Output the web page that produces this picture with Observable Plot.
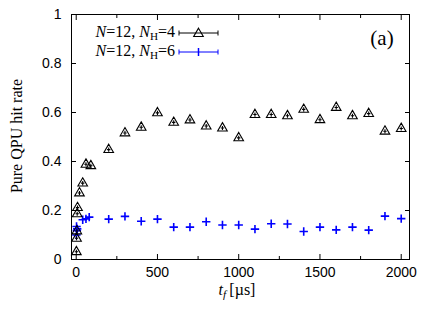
<!DOCTYPE html>
<html><head><meta charset="utf-8">
<script src="https://cdn.jsdelivr.net/npm/d3@7"></script>
<script src="https://cdn.jsdelivr.net/npm/@observablehq/plot@0.6"></script>
<style>
body{margin:0;background:#fff}
#wrap{position:relative;width:436px;height:320px;overflow:hidden}
.ov{position:absolute;font-family:"Liberation Serif","DejaVu Serif",serif;color:#000;white-space:nowrap;line-height:1}
sub{font-size:70%;vertical-align:-0.25em;line-height:0}
</style></head><body>
<div id="wrap"></div>
<script>
// Series N=12, N_H=4
const tH4 = [1, 2, 4, 6, 8, 20, 40, 60, 90, 200, 300, 400, 500, 600, 700, 800, 900, 1000, 1100, 1200, 1300, 1400, 1500, 1600, 1700, 1800, 1900, 2000];
const rateH4 = [0.035, 0.09, 0.12, 0.19, 0.215, 0.275, 0.315, 0.392, 0.386, 0.452, 0.52, 0.543, 0.602, 0.563, 0.573, 0.548, 0.54, 0.50, 0.595, 0.595, 0.59, 0.616, 0.574, 0.624, 0.59, 0.599, 0.527, 0.538];
// Series N=12, N_H=6
const tH6 = [1, 2, 4, 6, 40, 60, 80, 200, 300, 400, 500, 600, 700, 800, 900, 1000, 1100, 1200, 1300, 1400, 1500, 1600, 1700, 1800, 1900, 2000];
const rateH6 = [0.10, 0.135, 0.118, 0.125, 0.162, 0.166, 0.173, 0.165, 0.176, 0.156, 0.165, 0.132, 0.132, 0.154, 0.141, 0.141, 0.124, 0.146, 0.145, 0.114, 0.132, 0.121, 0.132, 0.12, 0.177, 0.167];

const xTicks = [0, 500, 1000, 1500, 2000];
const xTickLabels = ["0", "500", "1000", "1500", "2000"];
const xMinor = [250, 750, 1250, 1750];
const yTicks = [0, 0.2, 0.4, 0.6, 0.8, 1];
const yTickLabels = ["0", "0.2", "0.4", "0.6", "0.8", "1"];

const dataH4 = tH4.map((t, i) => ({t, v: rateH4[i]}));
const dataH6 = tH6.map((t, i) => ({t, v: rateH6[i]}));

const triSym = {draw(ctx, size) {
  const r = Math.sqrt(size / Math.PI);
  const h = r * Math.sqrt(3);
  ctx.moveTo(0, -h * 0.55);
  ctx.lineTo(r, h * 0.45);
  ctx.lineTo(-r, h * 0.45);
  ctx.closePath();
  ctx.moveTo(0, -h * 0.15); ctx.lineTo(0, h * 0.35);
  ctx.moveTo(-r * 0.35, h * 0.1); ctx.lineTo(r * 0.35, h * 0.1);
}};
const plusSym = {draw(ctx, size) {
  const r = Math.sqrt(size / Math.PI);
  ctx.moveTo(-r, 0); ctx.lineTo(r, 0);
  ctx.moveTo(0, -r); ctx.lineTo(0, r);
}};

const font = '"Liberation Sans", Arial, sans-serif';
const plot = Plot.plot({
  width: 436, height: 320,
  marginLeft: 71, marginRight: 27, marginTop: 14, marginBottom: 61,
  style: {fontFamily: font, fontSize: "14px", background: "#fff", color: "#000"},
  x: {domain: [-29, 2051]},
  y: {domain: [0, 1]},
  marks: [
    Plot.frame({stroke: "#000", strokeWidth: 1}),
    Plot.axisX(xTicks, {anchor: "bottom", tickSize: 0, tickPadding: 8, label: null, fontSize: 14, tickFormat: (d, i) => xTickLabels[i]}),
    Plot.axisX(xTicks, {anchor: "bottom", tickSize: -5, tickFormat: () => "", label: null}),
    Plot.axisX(xTicks, {anchor: "top", tickSize: -5, tickFormat: () => "", label: null}),
    Plot.axisX(xMinor, {anchor: "bottom", tickSize: -3, tickFormat: () => "", label: null}),
    Plot.axisX(xMinor, {anchor: "top", tickSize: -3, tickFormat: () => "", label: null}),
    Plot.axisY(yTicks, {anchor: "left", tickSize: 0, tickPadding: 10, label: null, fontSize: 14, tickFormat: (d, i) => yTickLabels[i]}),
    Plot.axisY(yTicks, {anchor: "left", tickSize: -5, tickFormat: () => "", label: null}),
    Plot.axisY(yTicks, {anchor: "right", tickSize: -5, tickFormat: () => "", label: null}),
    Plot.dot(dataH6, {x: "t", y: "v", symbol: plusSym, r: 4.2, stroke: "#0000ff", strokeWidth: 1.6, fill: "none"}),
    Plot.dot(dataH4, {x: "t", y: "v", symbol: triSym, r: 4.8, stroke: "#000", strokeWidth: 1.1, fill: "none"})
  ]
});
const wrap = document.getElementById("wrap");
wrap.appendChild(plot);

function ov(html, css) {
  const d = document.createElement("div");
  d.className = "ov";
  d.innerHTML = html;
  Object.assign(d.style, css);
  wrap.appendChild(d);
  return d;
}
// y label
ov("Pure QPU hit rate", {left: "17px", top: "136px", fontSize: "16px", transform: "translate(-50%,-50%) rotate(-90deg)"});
// x label
ov("<i>t<sub>f</sub></i>&thinsp;[µs]", {left: "237px", top: "290px", fontSize: "16px", transform: "translate(-50%,-50%)"});
// panel tag
ov("(a)", {left: "382px", top: "38px", fontSize: "21px", transform: "translate(-50%,-50%)"});
// legend text
ov("<i>N</i>=12, <i>N</i><sub>H</sub>=4", {right: (436 - 175) + "px", top: "33px", fontSize: "16px", transform: "translateY(-55%)"});
ov("<i>N</i>=12, <i>N</i><sub>H</sub>=6", {right: (436 - 175) + "px", top: "52px", fontSize: "16px", transform: "translateY(-55%)"});

// legend samples
const ns = "http://www.w3.org/2000/svg";
const lg = document.createElementNS(ns, "svg");
lg.setAttribute("width", 436); lg.setAttribute("height", 320);
lg.style.position = "absolute"; lg.style.left = "0"; lg.style.top = "0"; lg.style.pointerEvents = "none";
lg.innerHTML = `
<g stroke="#000" stroke-width="1" fill="none">
  <path d="M179,33H218M179,30.5V35.5M218,30.5V35.5"/>
  <path d="M198.5,28.2L203.3,36.5L193.7,36.5Z" stroke-width="1.1"/>
</g>
<g stroke="#0000ff" stroke-width="1" fill="none">
  <path d="M179,52H218M179,49.5V54.5M218,49.5V54.5"/>
  <path d="M198.5,48V56" stroke-width="1.5"/>
</g>`;
wrap.appendChild(lg);
</script>
</body></html>
